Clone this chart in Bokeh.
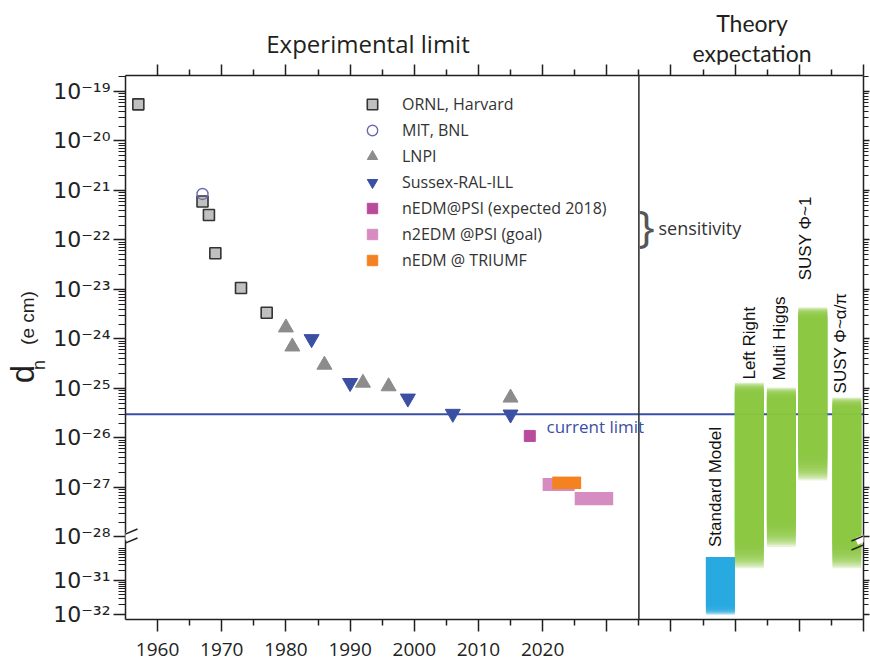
import math
from bokeh.plotting import figure
from bokeh.models import (Range1d, LinearAxis, FixedTicker, Label, Legend, LegendItem,
                          Span, Arrow, ColumnDataSource, Grid, Div)
from bokeh.layouts import column, row
from bokeh.core.properties import value
from bokeh.embed import file_html
from bokeh.resources import INLINE

# ---------------- data (d_n in e cm) ----------------
ornl_year = [1957, 1967, 1968, 1969, 1973, 1977]
ornl_dn = [5.5e-20, 6.0e-22, 3.2e-22, 5.4e-23, 1.07e-23, 3.4e-24]
mit_year = [1967]
mit_dn = [8.5e-22]
lnpi_year = [1980, 1981, 1986, 1992, 1996, 2015]
lnpi_dn = [1.7e-24, 7.0e-25, 3.0e-25, 1.3e-25, 1.1e-25, 6.5e-26]
sussex_year = [1984, 1990, 1999, 2006, 2015]
sussex_dn = [1.0e-24, 1.3e-25, 6.3e-26, 3.1e-26, 3.0e-26]
psi_year = [2018]
psi_dn = [1.1e-26]
n2edm_from = [2020, 2025]
n2edm_to = [2025, 2031]
n2edm_hi = [1.55e-27, 8.1e-28]
n2edm_lo = [8.5e-28, 4.4e-28]
triumf_from = [2021.5]
triumf_to = [2026]
triumf_hi = [1.66e-27]
triumf_lo = [9.3e-28]
current_limit = 3.0e-26

theory_names = ["Standard Model", "Left Right", "Multi Higgs", "SUSY Φ~1", "SUSY Φ~α/π"]
theory_year = [2047.7, 2052.2, 2057.2, 2062.1, 2067.4]
theory_hi_exp = [-30.3, -24.88, -24.98, -23.36, -25.18]
theory_lo_exp = [-32.0, -30.63, -30.0, -26.86, -30.63]

year_ticks = [1960, 1970, 1980, 1990, 2000, 2010, 2020, 2030, 2040, 2050, 2060, 2070]
year_minor = [1965, 1975, 1985, 1995, 2005, 2015, 2025, 2035, 2045, 2055, 2065]
year_labels = ["1960", "1970", "1980", "1990", "2000", "2010", "2020"]
exp_ticks = [-19, -20, -21, -22, -23, -24, -25, -26, -27, -28, -31, -32]
divider_year = 2035

# ---------------- broken log axis transform ----------------
UP_MIN, LOW_MAX, GAP_U, LOW_SCALE = -28.0, -30.0, 0.2, 34 / 49.5


def yt(L):
    if L >= UP_MIN:
        return L
    if L <= LOW_MAX:
        return UP_MIN - GAP_U + (L - LOW_MAX) * LOW_SCALE
    return UP_MIN + (L - UP_MIN) * GAP_U / (UP_MIN - LOW_MAX)


def yv(d):
    return yt(math.log10(d))


Y_TOP, Y_BOT = -18.677, -29.667
X0, X1 = 1955, 2070
TOP_H, LEFT_W = 64, 45
FRAME_H = 544

p = figure(width=870 - LEFT_W, height=667 - TOP_H, x_range=Range1d(X0, X1),
           y_range=Range1d(Y_BOT, Y_TOP), output_backend="svg", toolbar_location=None,
           x_axis_location=None, y_axis_location=None,
           min_border_left=125 - LEFT_W, min_border_right=7, min_border_top=75 - TOP_H,
           min_border_bottom=48)
p.outline_line_color = None
p.margin = 0
for r in list(p.center):
    if isinstance(r, Grid):
        r.visible = False

AX = "#231f20"
FONT = "Open Sans"

# ---------------- axes ----------------
xt = FixedTicker(ticks=year_ticks, minor_ticks=year_minor)
xlab = {t: (str(t) if str(t) in year_labels else "") for t in year_ticks}
xb = LinearAxis(ticker=xt, major_label_overrides=xlab)
xtop = LinearAxis(ticker=xt, major_label_overrides={t: "" for t in year_ticks})
for ax in (xb, xtop):
    ax.axis_line_color = AX
    ax.axis_line_width = 1.5
    ax.major_tick_line_color = AX
    ax.minor_tick_line_color = AX
    ax.major_tick_line_width = 1.5
    ax.minor_tick_line_width = 1.5
    ax.major_tick_out = 11
    ax.major_tick_in = 0
    ax.minor_tick_out = 6
    ax.minor_tick_in = 0
    ax.major_label_text_font = FONT
    ax.major_label_text_color = "#222222"
xb.major_tick_out = 12
xb.major_label_standoff = 11
xb.major_label_text_font_size = "19px"
xtop.major_label_standoff = 0
xtop.major_label_text_font_size = "0px"
p.add_layout(xb, "below")
p.add_layout(xtop, "above")

SUP = str.maketrans("-0123456789", "⁻⁰¹²³⁴⁵⁶⁷⁸⁹")
ymaj = [yt(e) for e in exp_ticks]
ymin = []
for n in range(-18, -28, -1):
    for k in range(2, 10):
        L = (n - 1) + math.log10(k)
        if yt(L) <= Y_TOP:
            ymin.append(yt(L))
for base in (-31, -32):
    for k in range(2, 10):
        ymin.append(yt(base + math.log10(k)))
yticker = FixedTicker(ticks=ymaj, minor_ticks=ymin)
ylab = {yt(e): "10" + str(e).translate(SUP) for e in exp_ticks}
yl = LinearAxis(ticker=yticker, major_label_overrides=ylab)
yr = LinearAxis(ticker=yticker, major_label_overrides={yt(e): "" for e in exp_ticks})
for ax in (yl, yr):
    ax.axis_line_color = AX
    ax.axis_line_width = 1.5
    ax.major_tick_line_color = AX
    ax.minor_tick_line_color = AX
    ax.major_tick_line_width = 1.3
    ax.minor_tick_line_width = 1.2
    ax.major_tick_in = 0
    ax.minor_tick_in = 0
    ax.major_label_text_font = "DejaVu Sans"
    ax.major_label_text_font_size = "22px"
    ax.major_label_text_color = "#222222"
yl.major_tick_out = 12
yl.minor_tick_out = 7
yl.major_label_standoff = 3
yr.major_tick_out = 6
yr.minor_tick_out = 5
yr.major_label_standoff = 0
yr.major_label_text_font_size = "0px"
p.add_layout(yl, "left")
p.add_layout(yr, "right")

# ---------------- current limit (extends a little left of the axis) and divider ----------------
BLUE = "#3b4fa3"
p.add_layout(Span(location=yv(current_limit), dimension="width", line_color=BLUE,
                  line_width=2, level="underlay"))
fy_cl = (yv(current_limit) - Y_BOT) / (Y_TOP - Y_BOT) * FRAME_H
p.add_layout(Arrow(end=None, x_start=-30, y_start=fy_cl, x_end=0, y_end=fy_cl,
                   start_units="screen", end_units="screen", line_color=BLUE, line_width=2))
p.add_layout(Span(location=divider_year, dimension="height", line_color="#333333",
                  line_width=1.6))

# ---------------- theory bars (faded ends via nested translucent quads) ----------------
theory_color = ["#29abe2", "#8dc63f", "#8dc63f", "#8dc63f", "#8dc63f"]
fade_top = [0.0, 0.25, 0.25, 0.25, 0.25]
fade_bot = [0.2, 0.6, 0.6, 0.6, 0.6]
BAR_W = 4.5
NL = 20
qs = dict(left=[], right=[], top=[], bottom=[], color=[])
for i in range(len(theory_names)):
    hi_u, lo_u = yt(theory_hi_exp[i]), yt(theory_lo_exp[i])
    for k in range(NL):
        qs["left"].append(theory_year[i] - BAR_W / 2)
        qs["right"].append(theory_year[i] + BAR_W / 2)
        qs["top"].append(hi_u - fade_top[i] * k / (NL - 1))
        qs["bottom"].append(lo_u + fade_bot[i] * k / (NL - 1))
        qs["color"].append(theory_color[i])
p.quad(left="left", right="right", top="top", bottom="bottom", fill_color="color",
       fill_alpha=0.2, line_color=None, source=ColumnDataSource(qs))

lab_dx = [-5, 0, -2, -7, -6]
lab_dy = [-10, -3, -7, -27, -4]
p.text(x="x", y="y", text="t", x_offset="dx", y_offset="dy",
       source=ColumnDataSource(dict(x=theory_year, y=[yt(h) for h in theory_hi_exp],
                                    t=theory_names, dx=lab_dx, dy=lab_dy)),
       angle=math.pi / 2, text_align="left", text_baseline="middle",
       text_font=value("Liberation Sans"), text_font_size="17px", text_color="#111111")

# ---------------- experimental data ----------------
p.quad(left=n2edm_from, right=n2edm_to, top=[yv(v) for v in n2edm_hi],
       bottom=[yv(v) for v in n2edm_lo], fill_color="#d68cc0", line_color=None)
p.quad(left=triumf_from, right=triumf_to, top=[yv(v) for v in triumf_hi],
       bottom=[yv(v) for v in triumf_lo], fill_color="#f58220", line_color=None)
r_ornl = p.scatter(ornl_year, [yv(v) for v in ornl_dn], marker="square", size=11,
                   fill_color="#c0c0c0", line_color="#333333", line_width=1.6)
r_mit = p.scatter(mit_year, [yv(v) for v in mit_dn], marker="circle", size=11,
                  fill_color=None, line_color="#6a6ab0", line_width=1.4)
r_lnpi = p.scatter(lnpi_year, [yv(v) for v in lnpi_dn], marker="triangle", size=15,
                   fill_color="#8c8c8c", line_color="#8c8c8c")
r_sus = p.scatter(sussex_year, [yv(v) for v in sussex_dn], marker="inverted_triangle",
                  size=15, fill_color=BLUE, line_color=BLUE)
r_psi = p.scatter(psi_year, [yv(v) for v in psi_dn], marker="square", size=11,
                  fill_color="#b94b9b", line_color="#b94b9b")
# legend proxies (not drawn: NaN position) for the rectangular goals
nan = float("nan")
px_n2 = p.scatter(x=[nan], y=[nan], marker="square", size=11, fill_color="#d68cc0",
                  line_color="#d68cc0")
px_tr = p.scatter(x=[nan], y=[nan], marker="square", size=11, fill_color="#f58220",
                  line_color="#f58220")

legend = Legend(items=[
    LegendItem(label="ORNL, Harvard", renderers=[r_ornl]),
    LegendItem(label="MIT, BNL", renderers=[r_mit]),
    LegendItem(label="LNPI", renderers=[r_lnpi]),
    LegendItem(label="Sussex-RAL-ILL", renderers=[r_sus]),
    LegendItem(label="nEDM@PSI (expected 2018)", renderers=[r_psi]),
    LegendItem(label="n2EDM @PSI (goal)", renderers=[px_n2]),
    LegendItem(label="nEDM @ TRIUMF", renderers=[px_tr]),
], location=(234, 346), padding=0, margin=0, spacing=0, glyph_height=26, glyph_width=26,
    label_height=26, label_standoff=17, border_line_color=None, background_fill_alpha=0,
    label_text_font=FONT, label_text_font_size="16px", label_text_color="#333333")
p.add_layout(legend)


# ---------------- texts inside the frame ----------------
def lab(x, y, text, size, color="#222222", align="center", font=FONT):
    p.add_layout(Label(x=x - 125, y=619 - y, x_units="screen", y_units="screen", text=text,
                       text_font=font, text_font_size=size, text_color=color,
                       text_align=align, text_baseline="middle"))


lab(658, 227, "sensitivity", "18px", color="#333333", align="left")
lab(646, 224, "}", "44px", color="#555555")
lab(546, 426, "current limit", "17px", color=BLUE, align="left")


# ---------------- axis break marks ----------------
def brk(xc, yc):
    fx, fy = xc - 125, 619 - yc
    p.add_layout(Arrow(end=None, x_start=fx - 7, y_start=fy - 1, x_end=fx + 7, y_end=fy + 5,
                       start_units="screen", end_units="screen", line_color="white",
                       line_width=7))
    for dy in (4.5, -4.5):
        p.add_layout(Arrow(end=None, x_start=fx - 12, y_start=fy + dy - 5, x_end=fx + 12,
                           y_end=fy + dy + 5, start_units="screen", end_units="screen",
                           line_color=AX, line_width=1.5))


brk(125, 538)
brk(863, 540)


# ---------------- titles and axis label (outside the frame) ----------------
def span(x, y, text, size, font="Open Sans", rot=False):
    tr = "translate(-50%,-50%)" + (" rotate(-90deg)" if rot else "")
    return (f'<span style="position:absolute;left:{x}px;top:{y}px;transform:{tr};'
            f"font-family:'{font}';font-size:{size}px;line-height:1;white-space:nowrap;"
            f'color:#231f20">{text}</span>')


top_div = Div(width=870, height=TOP_H, margin=0,
              text='<div style="position:relative;width:870px;height:64px">'
                   + span(368, 44, "Experimental limit", 24)
                   + span(752, 23, "Theory", 23, "Lato")
                   + span(752, 53, "expectation", 23, "Lato") + "</div>")
left_div = Div(width=LEFT_W, height=667 - TOP_H, margin=0,
               text='<div style="position:relative;width:45px;height:603px">'
                    + span(22, 374 - TOP_H, "d", 33, "Liberation Sans", True)
                    + span(39, 365 - TOP_H, "n", 18, "Liberation Sans", True)
                    + span(27, 318 - TOP_H, "(e cm)", 19, "Liberation Sans", True) + "</div>")

layout = column(top_div, row(left_div, p, spacing=0), spacing=0)
open("out.html", "w").write(file_html(layout, INLINE))
